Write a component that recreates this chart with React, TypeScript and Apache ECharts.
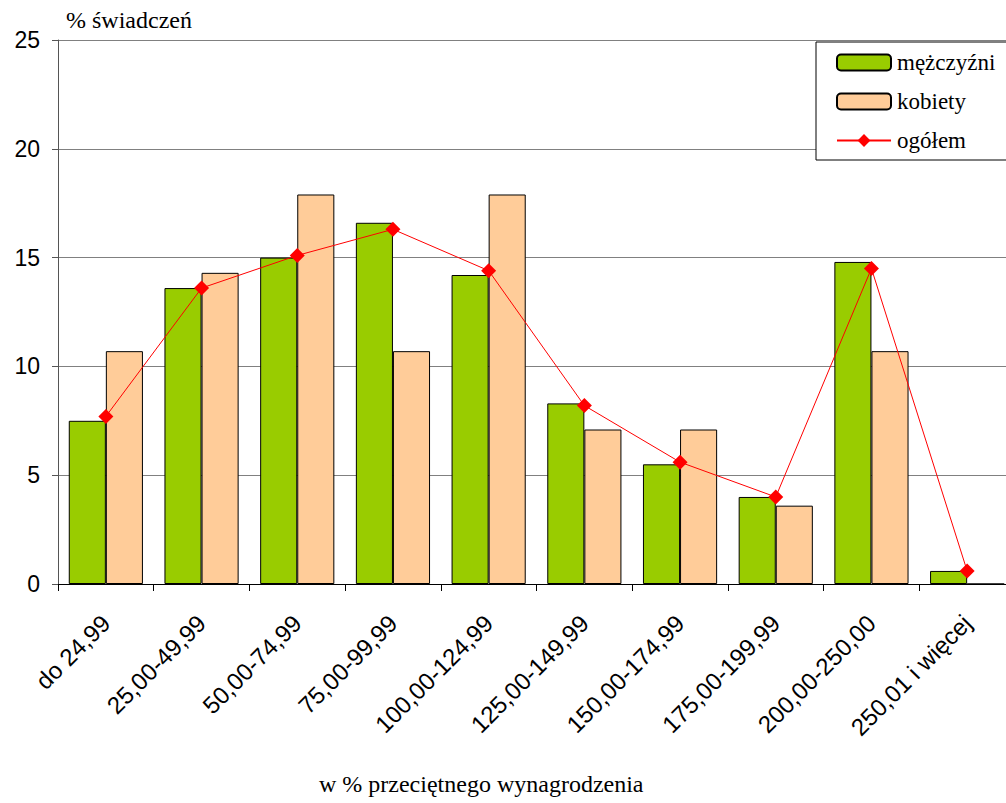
import React, { useEffect, useRef } from "react";
import * as echarts from "echarts";

const categories = [
  "do 24,99",
  "25,00-49,99",
  "50,00-74,99",
  "75,00-99,99",
  "100,00-124,99",
  "125,00-149,99",
  "150,00-174,99",
  "175,00-199,99",
  "200,00-250,00",
  "250,01 i więcej",
];
const men = [7.5, 13.6, 15.0, 16.6, 14.2, 8.3, 5.5, 4.0, 14.8, 0.6];
const women = [10.7, 14.3, 17.9, 10.7, 17.9, 7.1, 7.1, 3.6, 10.7, 0];
const total = [7.7, 13.6, 15.1, 16.3, 14.4, 8.2, 5.6, 4.0, 14.5, 0.6];
const yTicks = { min: 0, max: 25, interval: 5 };

const SANS = "'Liberation Sans', Arial, sans-serif";
const SERIF = "'Liberation Serif', 'Times New Roman', serif";

export default function App() {
  const ref = useRef<HTMLDivElement>(null);
  useEffect(() => {
    if (!ref.current) return;
    const chart = echarts.init(ref.current, null, { renderer: "svg" });
    chart.setOption({
      animation: false,
      backgroundColor: "#ffffff",
      grid: { left: 58, width: 957, top: 40, height: 544, containLabel: false },
      legend: {
        orient: "vertical",
        left: 816,
        top: 42,
        padding: [9, 40, 8, 20],
        itemWidth: 54,
        itemHeight: 16,
        itemGap: 16,
        backgroundColor: "#ffffff",
        borderColor: "#000000",
        borderWidth: 1,
        borderRadius: 0,
        textStyle: { fontFamily: SERIF, fontSize: 23, color: "#000", padding: [0, 0, 0, 1] },
        data: ["mężczyźni", "kobiety", "ogółem"],
      },
      xAxis: {
        type: "category",
        data: categories,
        axisLine: { lineStyle: { color: "#000", width: 1 } },
        axisTick: { show: true, length: 7, lineStyle: { color: "#000" } },
        axisLabel: {
          rotate: 45,
          interval: 0,
          margin: 35,
          fontFamily: SANS,
          fontSize: 24,
          color: "#000",
        },
      },
      yAxis: {
        type: "value",
        min: yTicks.min,
        max: yTicks.max,
        interval: yTicks.interval,
        axisLine: { show: true, lineStyle: { color: "#555", width: 1 } },
        axisTick: { show: true, length: 6, lineStyle: { color: "#555" } },
        axisLabel: { margin: 18, fontFamily: SANS, fontSize: 23, color: "#000" },
        splitLine: { lineStyle: { color: "#808080", width: 1 } },
      },
      series: [
        {
          name: "mężczyźni",
          type: "bar",
          data: men,
          barGap: "0%",
          barCategoryGap: "22.5%",
          itemStyle: { color: "#99CC00", borderColor: "#000", borderWidth: 1 },
        },
        {
          name: "kobiety",
          type: "bar",
          data: women,
          barGap: "0%",
          barCategoryGap: "22.5%",
          itemStyle: { color: "#FFCC99", borderColor: "#000", borderWidth: 1 },
        },
        {
          name: "ogółem",
          type: "line",
          data: total,
          symbol: "diamond",
          symbolSize: 15,
          lineStyle: { color: "#FF0000", width: 1 },
          itemStyle: { color: "#FF0000" },
          z: 5,
        },
      ],
      graphic: [
        {
          type: "text",
          left: 66,
          top: 8,
          style: { text: "% świadczeń", font: `24px ${SERIF}`, fill: "#000" },
        },
        {
          type: "text",
          left: 319,
          top: 772,
          style: {
            text: "w % przeciętnego wynagrodzenia",
            font: `24px ${SERIF}`,
            fill: "#000",
          },
        },
      ],
    });
    return () => chart.dispose();
  }, []);
  return <div ref={ref} style={{ width: 1030, height: 803, position: "fixed", left: 0, top: 0 }} />;
}
